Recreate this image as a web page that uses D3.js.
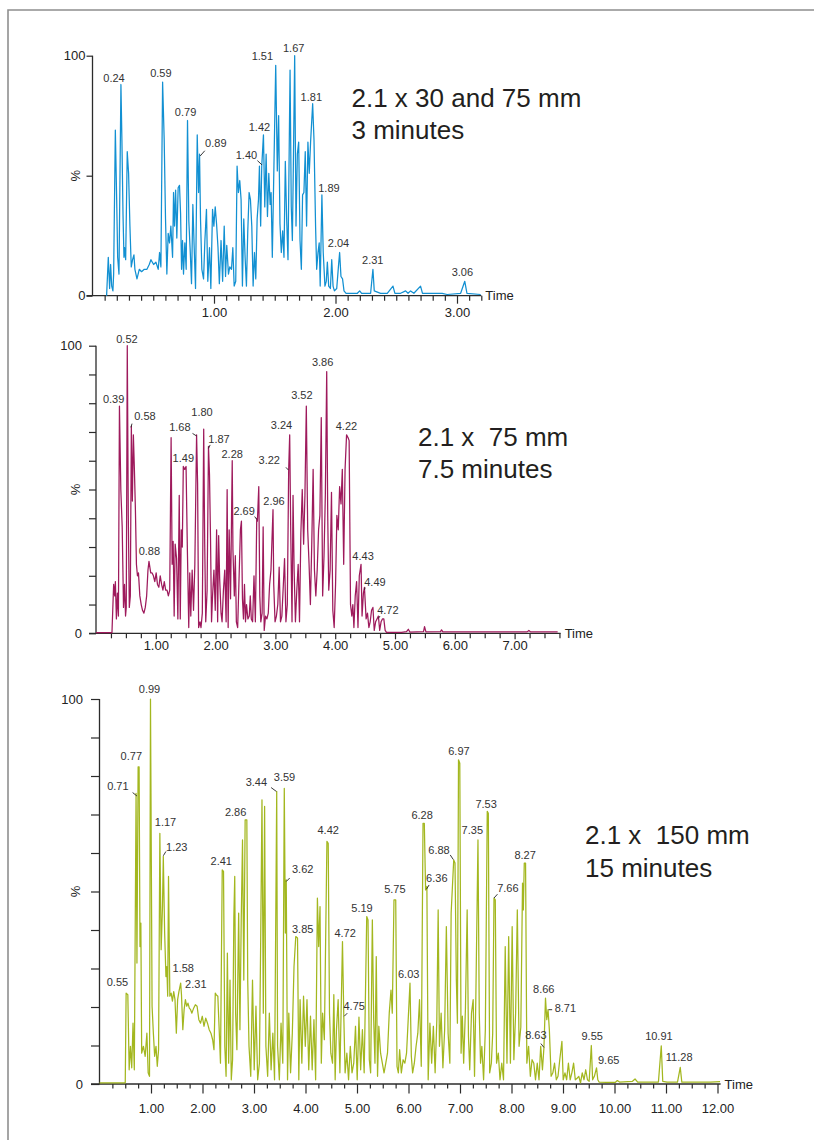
<!DOCTYPE html>
<html><head><meta charset="utf-8">
<script src="https://cdn.jsdelivr.net/npm/d3@7"></script>
<style>
body{margin:0;background:#fff;}
svg{display:block;font-family:"Liberation Sans",Arial,sans-serif;}
</style></head><body>
<svg id="chart" width="814" height="1140"></svg>
<script>
// ---------- DATA: retention time (min), intensity (%) ----------
const trace30 = [[0.116,0],[0.130,16],[0.141,3],[0.149,13],[0.158,4],[0.168,2],[0.174,9],[0.188,69],[0.199,40],[0.207,16],[0.218,9],[0.234,88],[0.242,65],[0.251,34],[0.259,16],[0.264,20],[0.273,15],[0.286,60],[0.297,51],[0.308,29],[0.319,12],[0.330,15],[0.341,17],[0.349,11],[0.366,7],[0.385,11],[0.404,10],[0.426,11],[0.448,11],[0.467,13],[0.481,15],[0.503,13],[0.522,14],[0.541,11],[0.552,18],[0.563,12],[0.577,89],[0.590,65],[0.601,32],[0.612,9],[0.623,26],[0.634,22],[0.645,29],[0.659,16],[0.667,43],[0.675,29],[0.684,44],[0.694,24],[0.705,45],[0.716,46],[0.725,34],[0.733,11],[0.741,23],[0.749,9],[0.760,22],[0.771,11],[0.782,73],[0.793,31],[0.804,19],[0.815,5],[0.826,38],[0.837,20],[0.848,3],[0.862,67],[0.873,43],[0.881,59],[0.889,32],[0.900,11],[0.914,7],[0.925,23],[0.938,36],[0.949,6],[0.963,20],[0.974,3],[0.988,36],[0.999,29],[1.010,37],[1.021,30],[1.033,20],[1.044,5],[1.058,23],[1.071,6],[1.084,29],[1.095,8],[1.105,21],[1.119,9],[1.130,12],[1.144,11],[1.155,20],[1.166,4],[1.179,6],[1.190,54],[1.201,43],[1.212,48],[1.223,40],[1.234,4],[1.245,32],[1.256,16],[1.267,4],[1.278,27],[1.289,43],[1.300,40],[1.311,29],[1.322,4],[1.333,18],[1.344,7],[1.355,32],[1.366,40],[1.374,54],[1.384,29],[1.393,54],[1.407,67],[1.418,37],[1.429,59],[1.440,33],[1.451,51],[1.462,38],[1.470,43],[1.480,16],[1.508,96],[1.521,52],[1.532,75],[1.543,30],[1.554,18],[1.565,27],[1.576,16],[1.587,56],[1.598,32],[1.609,15],[1.626,94],[1.636,37],[1.645,23],[1.653,54],[1.664,100],[1.675,29],[1.686,59],[1.697,64],[1.708,23],[1.719,11],[1.729,42],[1.740,43],[1.751,60],[1.762,29],[1.773,64],[1.784,51],[1.795,64],[1.812,80],[1.823,65],[1.836,29],[1.845,11],[1.856,18],[1.866,22],[1.874,4],[1.888,42],[1.899,18],[1.913,4],[1.924,6],[1.933,14],[1.944,4],[1.958,3],[1.969,15],[1.980,4],[1.991,2],[2.010,3],[2.024,12],[2.034,18],[2.045,8],[2.058,7],[2.070,2],[2.087,1],[2.125,1],[2.180,1],[2.199,2],[2.215,1],[2.289,1],[2.308,11],[2.319,2],[2.371,1],[2.426,1],[2.473,4],[2.489,1],[2.536,1],[2.577,2],[2.597,1],[2.618,2],[2.645,1],[2.700,4],[2.716,1],[2.755,1],[2.810,1],[2.878,1],[2.919,0.5],[3.030,1],[3.064,6],[3.082,1],[3.195,0.5]];

const trace75 = [[0.0,0.2],[0.267,0.2],[0.295,17],[0.313,13],[0.324,18],[0.341,5],[0.358,14],[0.375,6],[0.392,79],[0.415,50],[0.438,37],[0.460,9],[0.477,17],[0.494,6],[0.506,9],[0.523,100],[0.540,41],[0.557,9],[0.574,13],[0.591,72],[0.608,46],[0.625,69],[0.642,57],[0.659,43],[0.676,24],[0.693,20],[0.710,21],[0.733,13],[0.756,10],[0.778,8],[0.801,7],[0.824,9],[0.847,13],[0.869,22],[0.886,25],[0.915,21],[0.938,21],[0.960,20],[0.983,18],[1.006,21],[1.028,17],[1.051,16],[1.074,20],[1.097,17],[1.119,15],[1.142,18],[1.165,15],[1.188,15],[1.210,13],[1.233,15],[1.256,68],[1.273,24],[1.290,32],[1.307,6],[1.324,31],[1.347,26],[1.369,5],[1.392,48],[1.409,5],[1.426,36],[1.443,30],[1.460,58],[1.483,57],[1.506,58],[1.528,29],[1.551,2],[1.568,21],[1.585,6],[1.608,22],[1.631,8],[1.653,24],[1.682,69],[1.699,52],[1.716,2],[1.739,4],[1.756,2],[1.778,7],[1.801,71],[1.818,31],[1.835,4],[1.858,15],[1.881,65],[1.898,55],[1.915,33],[1.932,4],[1.949,13],[1.972,22],[1.994,8],[2.017,36],[2.034,4],[2.051,34],[2.068,19],[2.091,7],[2.108,4],[2.131,15],[2.153,22],[2.176,4],[2.193,50],[2.210,2],[2.227,36],[2.250,12],[2.278,60],[2.290,29],[2.313,13],[2.330,27],[2.347,4],[2.369,2],[2.392,19],[2.415,36],[2.432,39],[2.449,12],[2.466,5],[2.483,17],[2.500,4],[2.517,10],[2.540,5],[2.563,6],[2.580,13],[2.597,5],[2.619,4],[2.642,20],[2.665,4],[2.688,40],[2.699,39],[2.722,51],[2.739,13],[2.756,4],[2.778,7],[2.795,37],[2.813,1],[2.835,6],[2.858,5],[2.881,7],[2.903,17],[2.926,22],[2.960,43],[2.972,17],[2.994,4],[3.017,6],[3.040,10],[3.063,23],[3.085,4],[3.108,6],[3.131,16],[3.153,26],[3.176,4],[3.199,10],[3.222,57],[3.239,69],[3.256,36],[3.278,4],[3.295,48],[3.313,22],[3.335,4],[3.358,15],[3.381,24],[3.403,4],[3.426,35],[3.449,50],[3.472,31],[3.494,48],[3.517,79],[3.540,36],[3.563,24],[3.585,10],[3.608,31],[3.631,57],[3.653,22],[3.676,13],[3.699,22],[3.722,36],[3.744,41],[3.767,75],[3.790,13],[3.813,27],[3.835,48],[3.858,91],[3.875,41],[3.892,15],[3.915,22],[3.938,49],[3.960,8],[3.983,2],[4.006,17],[4.028,41],[4.051,36],[4.074,51],[4.097,45],[4.119,57],[4.142,24],[4.165,57],[4.190,69],[4.216,68],[4.233,67],[4.256,10],[4.278,6],[4.295,10],[4.313,2],[4.335,13],[4.358,18],[4.381,2],[4.403,20],[4.432,24],[4.449,6],[4.472,14],[4.489,16],[4.517,5],[4.540,7],[4.563,2],[4.585,4],[4.608,8],[4.631,9],[4.653,1],[4.676,4],[4.699,5],[4.722,6],[4.744,1],[4.767,4],[4.790,5],[4.813,5],[4.835,1],[4.858,0.3],[5.108,0.3],[5.193,0.6],[5.222,1.4],[5.250,0.4],[5.477,0.6],[5.494,2.3],[5.517,0.5],[5.761,0.6],[5.778,1.2],[5.801,0.5],[6.244,0.5],[7.210,0.5],[7.239,1.0],[7.267,0.5],[7.720,0.5]];

const trace150 = [[0.0,0.3],[0.5,0.3],[0.517,23.6],[0.550,23.2],[0.576,3.7],[0.601,9.8],[0.626,4.2],[0.651,15.8],[0.676,3.7],[0.710,75.5],[0.727,31.4],[0.750,82.4],[0.769,82.4],[0.786,35.7],[0.803,41.8],[0.819,8],[0.853,9.8],[0.887,7.2],[0.920,13.2],[0.945,2.9],[0.971,2],[0.990,100],[1.021,20.2],[1.046,13.2],[1.071,7.2],[1.097,9.8],[1.122,4.6],[1.147,8.9],[1.172,65.1],[1.197,34.9],[1.223,46.1],[1.239,59.1],[1.265,39.2],[1.290,27.9],[1.307,30.5],[1.324,22.8],[1.340,53.9],[1.366,22.8],[1.391,23.6],[1.416,21.5],[1.441,24],[1.466,21.9],[1.492,13.2],[1.517,21.9],[1.542,24],[1.576,26.2],[1.592,23.2],[1.618,14.1],[1.643,19.3],[1.668,21.9],[1.693,20.2],[1.718,21],[1.744,19.7],[1.769,19.3],[1.794,18.4],[1.828,19.7],[1.861,20.6],[1.895,20.2],[1.929,16.7],[1.962,15.8],[1.996,17.6],[2.029,15],[2.063,17.1],[2.097,15.8],[2.130,14.1],[2.164,13.2],[2.197,11.5],[2.223,8.9],[2.248,23.6],[2.265,23.2],[2.298,22.8],[2.324,14.1],[2.349,5.4],[2.383,55.6],[2.408,55.2],[2.433,9.8],[2.458,2],[2.483,34],[2.508,5.4],[2.534,27],[2.559,1.1],[2.584,6.3],[2.609,43.5],[2.626,53.9],[2.643,18.4],[2.668,8.9],[2.702,44.4],[2.727,14.1],[2.752,42.6],[2.777,63.4],[2.802,27],[2.828,68.6],[2.861,68.6],[2.878,27],[2.903,9.8],[2.937,2],[2.971,27],[3.004,3.7],[3.038,20.2],[3.071,1.1],[3.105,5.4],[3.130,37.5],[3.155,73.8],[3.181,18.4],[3.206,72.1],[3.231,9.8],[3.265,2],[3.298,18.4],[3.332,3.7],[3.366,13.2],[3.399,1.1],[3.441,76],[3.458,9.8],[3.492,1.1],[3.525,15.8],[3.559,5.4],[3.588,76.8],[3.609,39.2],[3.626,53],[3.651,1.1],[3.676,18.4],[3.710,2.9],[3.744,13.2],[3.777,30.5],[3.811,38.3],[3.845,37.9],[3.870,1.1],[3.895,21.9],[3.929,5.4],[3.962,22.8],[3.996,9.8],[4.029,21.9],[4.063,3.7],[4.097,17.6],[4.130,3.7],[4.164,16.7],[4.197,1.1],[4.231,48.3],[4.256,35.7],[4.282,46.1],[4.307,5.4],[4.332,18.4],[4.366,11.5],[4.416,63],[4.441,62.5],[4.466,18.4],[4.492,8],[4.525,5.4],[4.550,23.2],[4.576,1.1],[4.601,14.1],[4.634,21.9],[4.668,2.9],[4.718,37],[4.744,17.4],[4.769,2.9],[4.803,8],[4.836,1.1],[4.870,9.8],[4.903,2.9],[4.937,5.4],[4.971,15],[5.004,1.1],[5.038,17.4],[5.071,3.7],[5.105,14.1],[5.139,2.9],[5.189,43.5],[5.214,42.6],[5.239,6.3],[5.265,2.9],[5.298,42.6],[5.324,16.7],[5.349,5.4],[5.374,33.1],[5.399,2],[5.424,15],[5.458,8],[5.492,5.4],[5.525,2.9],[5.559,5.4],[5.592,8],[5.626,18.4],[5.660,24.4],[5.685,18.4],[5.718,47.8],[5.752,47.8],[5.777,4.6],[5.803,2.9],[5.828,8.9],[5.861,2.9],[5.895,6.3],[5.929,5.4],[5.962,8],[6.029,26.2],[6.055,7.2],[6.080,2.9],[6.113,5.4],[6.147,9.8],[6.181,13.2],[6.214,21.9],[6.248,4.6],[6.282,67.7],[6.307,67.7],[6.332,50.4],[6.357,51.3],[6.382,1.1],[6.416,15.8],[6.450,5.4],[6.483,15],[6.517,2.9],[6.550,16.7],[6.576,45.2],[6.601,9.8],[6.634,18.4],[6.668,4.2],[6.702,14.1],[6.735,40.9],[6.769,13.2],[6.803,5.4],[6.828,44.4],[6.878,58.2],[6.903,57.4],[6.929,27],[6.950,15.8],[6.971,84.2],[6.996,83.3],[7.021,8],[7.046,17.6],[7.071,5.4],[7.105,19.3],[7.139,45.2],[7.164,12.5],[7.189,3.7],[7.223,18.4],[7.256,21.9],[7.282,2],[7.307,21.9],[7.349,63.4],[7.374,18.4],[7.399,5.4],[7.424,9.8],[7.458,1.1],[7.492,14.1],[7.529,70.8],[7.550,70.3],[7.576,2.9],[7.609,5.4],[7.635,13.2],[7.660,48.3],[7.685,47.8],[7.710,5.4],[7.744,8],[7.777,1.1],[7.811,5.4],[7.845,1.1],[7.878,35.7],[7.912,5.4],[7.945,38.3],[7.979,5.4],[8.013,40.9],[8.046,6.3],[8.080,18.4],[8.113,45.2],[8.147,9.8],[8.181,14.8],[8.214,52.2],[8.230,45.2],[8.248,57.4],[8.273,57.4],[8.298,5.4],[8.332,9.8],[8.366,2],[8.399,6.3],[8.433,5.4],[8.466,1.1],[8.500,5.4],[8.534,1.1],[8.567,9.8],[8.601,3.7],[8.630,9.5],[8.660,22.3],[8.685,16.7],[8.710,19.3],[8.735,14.1],[8.769,2],[8.803,2.9],[8.836,5.4],[8.870,1.1],[8.903,2],[8.937,6.3],[8.979,11.1],[9.004,1.1],[9.038,2.9],[9.071,1.1],[9.105,5.4],[9.139,1.1],[9.172,2.9],[9.206,5.4],[9.239,1.1],[9.273,1.5],[9.307,2],[9.340,0.3],[9.374,2.9],[9.408,1.1],[9.441,3.7],[9.475,1.1],[9.508,0.7],[9.550,10],[9.575,1.1],[9.609,2],[9.651,4.2],[9.676,1.1],[9.700,0.5],[9.845,0.4],[10.013,0.4],[10.055,0.9],[10.097,0.5],[10.349,0.7],[10.399,1.3],[10.450,0.5],[10.853,0.5],[10.908,9.9],[10.937,0.7],[11.021,0.5],[11.223,0.5],[11.277,4.3],[11.307,0.5],[11.861,0.5],[12.05,0.6]];

// peak labels: [text, time, %] of the label anchor
const labels30 = [["0.24",0.177,89.2],["0.59",0.563,91],["0.79",0.766,75],["0.89",1.015,61.8],["1.40",1.267,57],["1.42",1.374,68.8],["1.51",1.398,98.2],["1.67",1.656,101.4],["1.81",1.801,81.2],["1.89",1.946,43.3],["2.04",2.025,20.4],["2.31",2.307,13.1],["3.06",3.044,8.3]];
const labels75 = [["0.52",0.517,101],["0.39",0.295,80.2],["0.58",0.818,74.2],["0.88",0.892,27.2],["1.68",1.403,70.5],["1.49",1.46,59.7],["1.80",1.773,75.7],["1.87",2.057,66],["2.28",2.278,61.1],["2.69",2.477,41.1],["2.96",2.977,44.6],["3.22",2.898,58.7],["3.24",3.102,71],["3.52",3.443,81.3],["3.86",3.79,93],["4.22",4.188,70.7],["4.43",4.466,25.5],["4.49",4.665,16.6],["4.72",4.881,6.6]];
const labels150 = [["0.55",0.349,25.5],["0.71",0.357,76.4],["0.77",0.618,84.2],["0.99",0.971,101.6],["1.17",1.282,66.9],["1.23",1.5,60.4],["1.58",1.626,29.2],["2.31",1.87,24.9],["2.41",2.365,56.9],["2.86",2.643,69.6],["3.44",3.046,77.4],["3.59",3.592,78.8],["3.62",3.945,54.8],["3.85",3.945,39.2],["4.42",4.441,64.9],["4.72",4.769,38.3],["4.75",4.945,19.3],["5.19",5.097,44.8],["5.75",5.735,49.6],["6.03",6.004,27.5],["6.28",6.265,68.8],["6.36",6.55,52.4],["6.88",6.592,59.7],["6.97",6.979,85.4],["7.35",7.239,64.9],["7.53",7.508,71.8],["7.66",7.929,50],["8.27",8.265,58.4],["8.66",8.626,23.6],["8.71",9.046,18.7],["8.63",8.474,11.8],["9.55",9.567,11.5],["9.65",9.887,5.3],["10.91",10.862,11.5],["11.28",11.256,5.9]];

// leader lines: [t1,%1,t2,%2]
const leaders30 = [[0.924,60.4,0.886,58.2],[1.357,56.3,1.395,54.5]];
const leaders75 = [[0.602,72.9,0.585,71.6],[1.614,69.5,1.682,68.6],[1.909,65.5,1.881,64.3],[2.653,40.6,2.688,39.6],[3.176,57.7,3.216,56.8],[4.5,15.9,4.489,15.1],[4.75,6,4.722,5.2]];
const leaders150 = [[0.643,75.7,0.727,74.8],[1.29,60.4,1.24,59.3],[3.332,77,3.433,76],[3.693,53.5,3.626,52.6],[4.811,18.4,4.752,17.6],[6.4,51.7,6.349,50.6],[6.81,59.5,6.87,58.3],[7.727,49.3,7.66,48.3],[8.72,19.3,8.79,19.3],[8.57,10.5,8.63,9.5]];

const titles = [["2.1 x 30 and 75 mm","3 minutes"],["2.1 x  75 mm","7.5 minutes"],["2.1 x  150 mm","15 minutes"]];
const majorTimes = [[1,2,3],[1,2,3,4,5,6,7],[1,2,3,4,5,6,7,8,9,10,11,12]];
const pctTicks = [[0,50,100],[0,10,20,30,40,50,60,70,80,90,100],[0,10,20,30,40,50,60,70,80,90,100]];
const pctLabels = [0,100];
const colors = ["#1290d2","#9e1a5c","#a3b71f"];

// ---------- LAYOUT ----------
const layouts = [
  {x0:92.5, ppm:121.5, tEnd:3.2, y0:295.7, y100:55.7, minorStep:0.1, minorLen:5, majorLen:8, labBase:21, yTick:6, yPad:1, title:[351.5,106.7]},
  {x0:96, ppm:59.8, tEnd:7.77, y0:633.3, y100:345.7, minorStep:0.25, minorLen:5, majorLen:6, labBase:16.5, yTick:7, yPad:7, title:[418,445.5]},
  {x0:99.5, ppm:51.5, tEnd:12.06, y0:1084, y100:699, minorStep:0.25, minorLen:4.5, majorLen:9.5, labBase:28.5, yTick:8.5, yPad:8, title:[585,844]}
];
const traces = [trace30, trace75, trace150];
const labelSets = [labels30, labels75, labels150];
const leaderSets = [leaders30, leaders75, leaders150];

const svg = d3.select("#chart");
svg.append("path").attr("d","M8,1140V10H814").attr("fill","none").attr("stroke","#8f8f8f").attr("stroke-width",1.6);

const AX = "#2b2b2b", FS = 13;

layouts.forEach((L, i) => {
  const x = d3.scaleLinear().domain([0, L.tEnd]).range([L.x0, L.x0 + L.tEnd * L.ppm]);
  const y = d3.scaleLinear().domain([0, 100]).range([L.y0, L.y100]);
  const g = svg.append("g");
  const major = majorTimes[i];

  const minor = d3.range(L.minorStep, L.tEnd + 1e-6, L.minorStep)
    .map(v => Math.round(v * 100) / 100)
    .filter(v => !major.includes(v));

  // minor ticks
  g.append("g").attr("transform", `translate(0,${L.y0})`)
    .call(d3.axisBottom(x).tickValues(minor).tickSize(L.minorLen).tickFormat(""))
    .call(s => { s.select(".domain").remove(); s.selectAll("line").attr("stroke", AX).attr("stroke-width", 1.2); });

  // major ticks + labels
  const pad = L.labBase - L.majorLen - 0.71 * FS;
  g.append("g").attr("transform", `translate(0,${L.y0})`)
    .call(d3.axisBottom(x).tickValues(major).tickSize(L.majorLen).tickPadding(pad).tickFormat(d3.format(".2f")))
    .call(s => {
      s.select(".domain").remove();
      s.selectAll("line").attr("stroke", AX).attr("stroke-width", 1.2);
      s.selectAll("text").attr("fill", "#222").attr("font-size", FS).attr("font-family", "Liberation Sans, Arial, sans-serif");
    });

  // y axis
  g.append("g").attr("transform", `translate(${L.x0},0)`)
    .call(d3.axisLeft(y).tickValues(pctTicks[i]).tickSize(L.yTick).tickPadding(L.yPad)
      .tickFormat(d => pctLabels.includes(d) ? d : ""))
    .call(s => {
      s.select(".domain").remove();
      s.selectAll("line").attr("stroke", AX).attr("stroke-width", 1.2);
      s.selectAll("text").attr("fill", "#222").attr("font-size", FS).attr("font-family", "Liberation Sans, Arial, sans-serif");
    });

  // axis lines
  g.append("line").attr("x1", L.x0).attr("x2", L.x0).attr("y1", y(0)).attr("y2", y(100))
    .attr("stroke", AX).attr("stroke-width", 1.3);
  g.append("line").attr("x1", L.x0 - L.yTick).attr("x2", x(L.tEnd)).attr("y1", y(0)).attr("y2", y(0))
    .attr("stroke", AX).attr("stroke-width", 1.3);

  // "%" label
  g.append("text").attr("transform", `translate(75,${(y(0) + y(100)) / 2}) rotate(-90)`)
    .attr("text-anchor", "middle").attr("dy", "0.35em").attr("font-size", FS).attr("fill", "#222").text("%");

  // "Time" label
  g.append("text").attr("x", x(L.tEnd) + 4).attr("y", y(0)).attr("dy", "0.35em")
    .attr("font-size", FS).attr("fill", "#222").text("Time");

  // trace
  const line = d3.line().x(d => x(d[0])).y(d => y(d[1]));
  g.append("path").datum(traces[i]).attr("d", line).attr("fill", "none")
    .attr("stroke", colors[i]).attr("stroke-width", 1.25).attr("stroke-linejoin", "round");

  // leaders
  g.selectAll(".ld").data(leaderSets[i]).join("line")
    .attr("x1", d => x(d[0])).attr("y1", d => y(d[1])).attr("x2", d => x(d[2])).attr("y2", d => y(d[3]))
    .attr("stroke", "#222").attr("stroke-width", 0.9);

  // peak labels
  g.selectAll(".pl").data(labelSets[i]).join("text")
    .attr("x", d => x(d[1])).attr("y", d => y(d[2]))
    .attr("text-anchor", "middle").attr("font-size", 11).attr("fill", "#333").text(d => d[0]);

  // title
  const tt = g.append("text").attr("font-size", 26).attr("fill", "#231f20").style("white-space", "pre");
  titles[i].forEach((s, k) => tt.append("tspan").attr("x", L.title[0]).attr("y", L.title[1] + k * 32.7).text(s));
});
</script>
</body></html>
